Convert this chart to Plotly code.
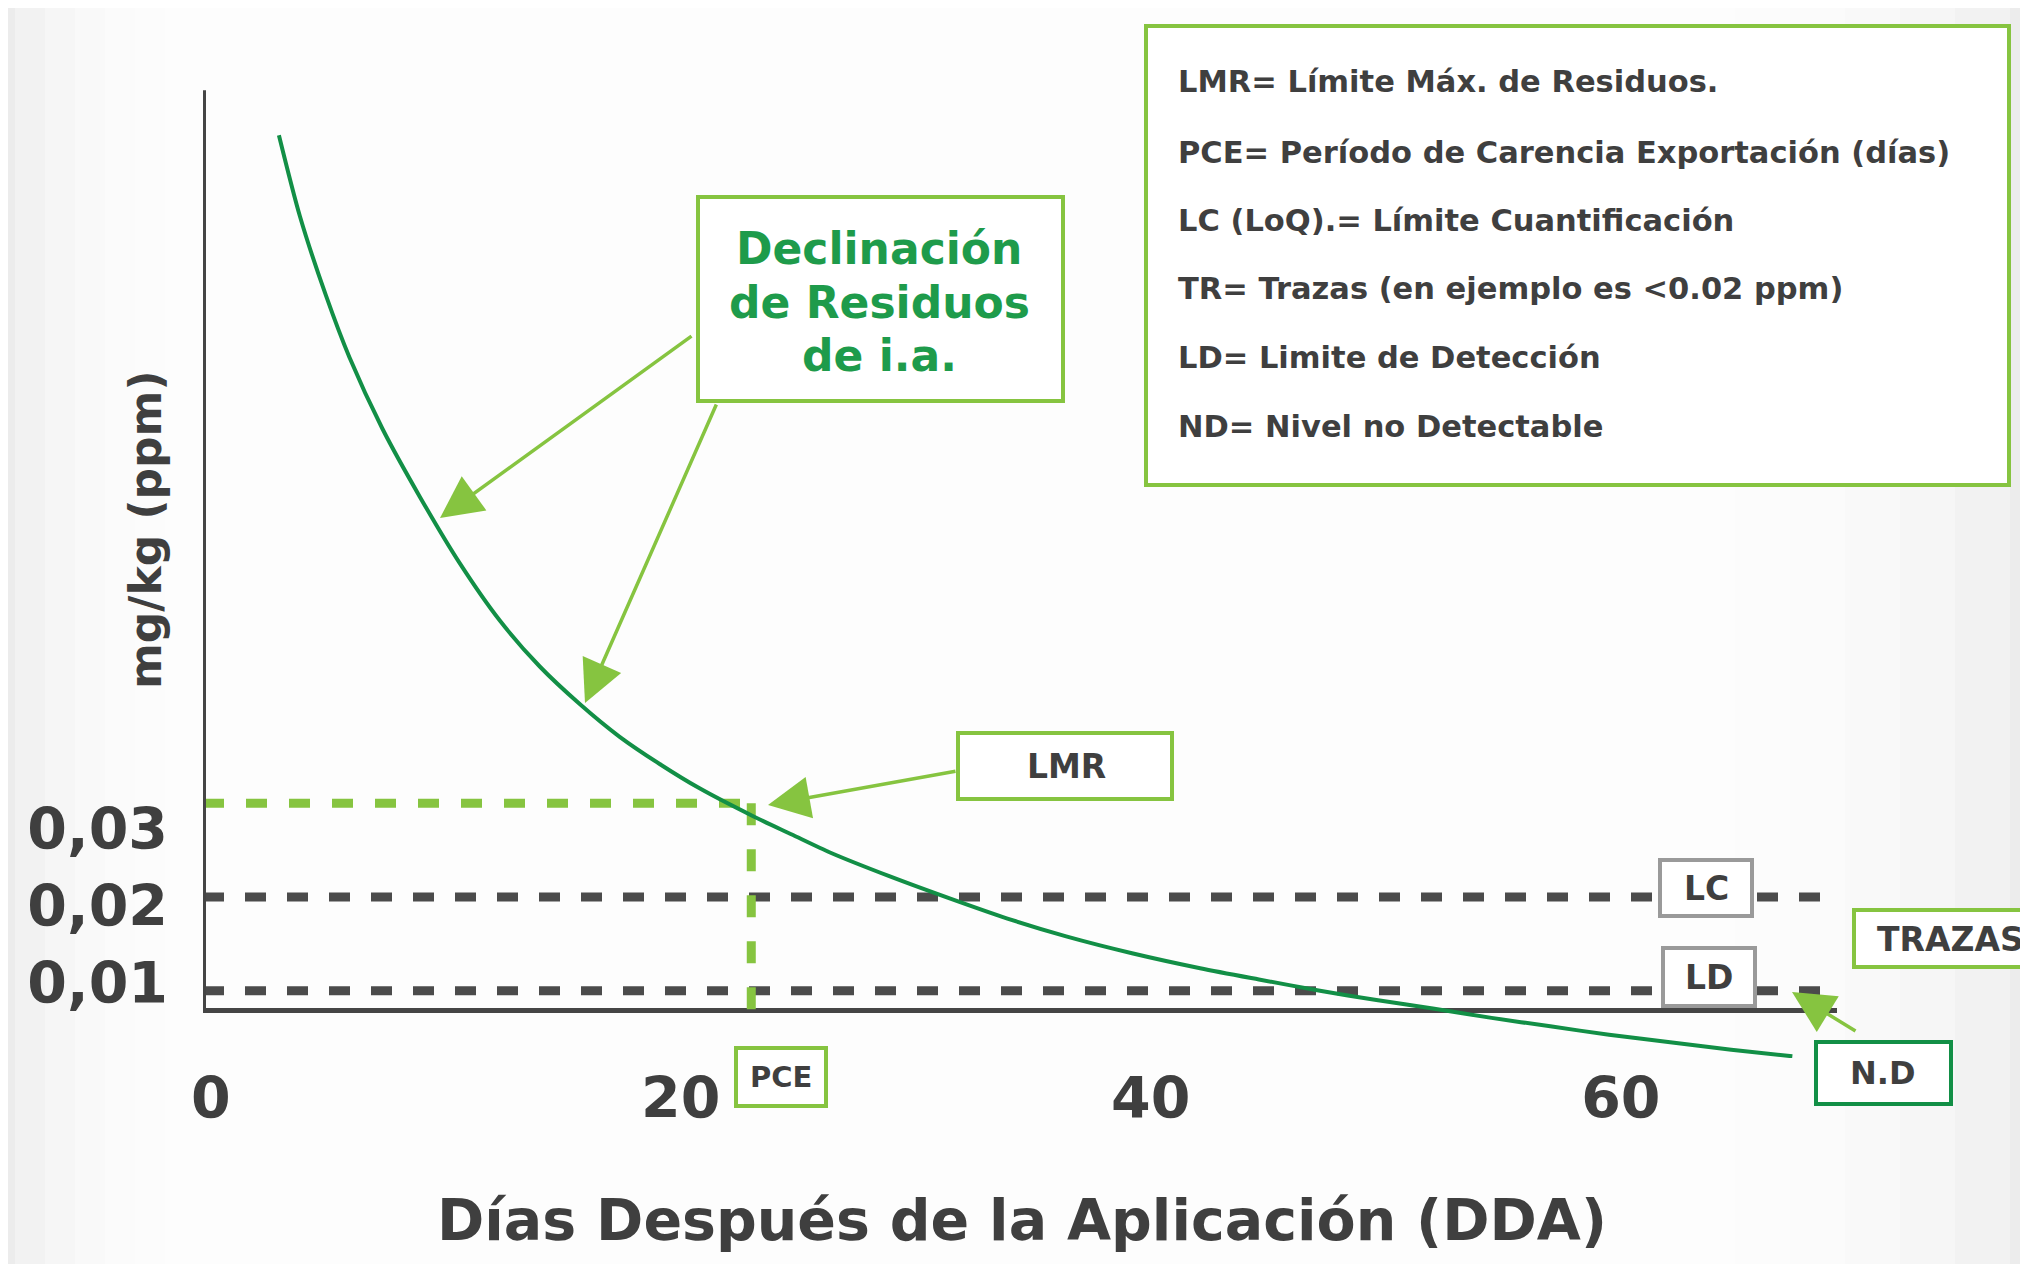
import plotly.graph_objects as go

# ---------------- data ----------------
days = [2.9, 3.8, 4.9, 5.9, 7.3, 8.9, 10.6, 12.3, 14.0, 15.7, 17.4, 19.1, 20.8,
        23.1, 24.7, 26.4, 28.9, 31.5, 33.9, 36.4, 39.2, 42.1, 44.6, 47.2, 49.6,
        52.0, 54.5, 57.0, 59.5, 62.1, 64.7, 67.3]
residue_ppm = [0.1013, 0.0926, 0.0842, 0.0776, 0.0700, 0.0627, 0.0556, 0.0495,
               0.0446, 0.0406, 0.0371, 0.0342, 0.0316, 0.0286, 0.0267, 0.0247,
               0.0222, 0.0198, 0.0177, 0.0158, 0.0140, 0.0124, 0.0112, 0.0100,
               0.0090, 0.0081, 0.0071, 0.0062, 0.0053, 0.0045, 0.0037, 0.0030]

LMR_VALUE = 0.03      # Límite Máx. de Residuos
LC_VALUE = 0.02       # Límite Cuantificación
LD_VALUE = 0.01       # Límite de Detección
PCE_DAY = 23.0        # Período de Carencia
PCE_LINE_BOTTOM = 0.0057
AXIS_BASE = 0.0079    # where the drawn x axis sits
LINE_END_DAY = 69.0
Y_AXIS_TOP = 0.1061

x_tick_vals = [0, 20, 40, 60]
x_tick_text = ["0", "20", "40", "60"]
y_tick_vals = [0.01, 0.02, 0.03]
y_tick_text = ["0,01", "0,02", "0,03"]

legend_lines = [
    "LMR= Límite Máx. de Residuos.",
    "PCE= Período de Carencia Exportación (días)",
    "LC (LoQ).= Límite Cuantificación",
    "TR= Trazas (en ejemplo es <0.02 ppm)",
    "LD= Limite de Detección",
    "ND= Nivel no Detectable",
]
title_lines = ["Declinación", "de Residuos", "de i.a."]

# ---------------- style / layout (page pixel coordinates) ----------------
OFF = 8                      # body margin of the html page
PAGE_W, PAGE_H = 2028, 1264
PL, PR, PT, PB = 203, 1837, 80, 1058
X_RANGE = [-0.33, 69.2]
Y_RANGE = [0.00282, 0.10719]
Y_LABEL_RANGE = [0.00026, 0.12727]   # scale of the (hand-placed) tick labels

FONT = "DejaVu Sans"
DARK_GREEN = "#128f46"
TEXT_GREEN = "#1e9b4b"
LIGHT_GREEN = "#86c440"
GRAY_DASH = "#4b4b4b"
AXIS_GRAY = "#454545"
TEXT_GRAY = "#3f3f3f"


def px(x):
    return (x - PL) / (PR - PL)


def py(y):
    return (PB - y) / (PB - PT)


fig = go.Figure()

dash_gray = dict(color=GRAY_DASH, width=9, dash="21px,21px")
dash_green = dict(color=LIGHT_GREEN, width=9, dash="21px,22px")

fig.add_trace(go.Scatter(x=[X_RANGE[0], LINE_END_DAY], y=[LC_VALUE, LC_VALUE], mode="lines",
                         line=dash_gray, hoverinfo="skip", showlegend=False))
fig.add_trace(go.Scatter(x=[X_RANGE[0], LINE_END_DAY], y=[LD_VALUE, LD_VALUE], mode="lines",
                         line=dash_gray, hoverinfo="skip", showlegend=False))
fig.add_trace(go.Scatter(x=[X_RANGE[0], X_RANGE[1]], y=[AXIS_BASE, AXIS_BASE],
                         mode="lines", line=dict(color=AXIS_GRAY, width=5),
                         hoverinfo="skip", showlegend=False))
fig.add_trace(go.Scatter(x=[X_RANGE[0], PCE_DAY], y=[LMR_VALUE, LMR_VALUE], mode="lines",
                         line=dash_green, hoverinfo="skip", showlegend=False))
fig.add_trace(go.Scatter(x=[PCE_DAY, PCE_DAY], y=[LMR_VALUE, PCE_LINE_BOTTOM], mode="lines",
                         line=dict(color=LIGHT_GREEN, width=9, dash="22px,24px"),
                         hoverinfo="skip", showlegend=False))
fig.add_trace(go.Scatter(x=[X_RANGE[0], X_RANGE[0]], y=[AXIS_BASE, Y_AXIS_TOP], mode="lines",
                         line=dict(color=AXIS_GRAY, width=6), hoverinfo="skip", showlegend=False))

# residue decline curve
fig.add_trace(go.Scatter(x=days, y=residue_ppm, mode="lines",
                         line=dict(color=DARK_GREEN, width=4, shape="spline", smoothing=0.8),
                         showlegend=False))

# invisible trace that carries the tick-label axis
fig.add_trace(go.Scatter(x=[X_RANGE[0]] * len(y_tick_vals), y=y_tick_vals, yaxis="y2",
                         mode="markers", marker=dict(opacity=0), hoverinfo="skip",
                         showlegend=False))

shapes = []
# background: light gray paper with white bands fading towards the centre
for i in range(10):
    shapes.append(dict(type="rect", xref="paper", yref="paper",
                       x0=px(15 + 30 * i), x1=px(2010 - 55 * i), y0=py(1300), y1=py(-40),
                       fillcolor="white", opacity=0.3, line=dict(width=0), layer="below"))


def box(x0, y0, x1, y1, color, width=4):
    shapes.append(dict(type="rect", xref="paper", yref="paper",
                       x0=px(x0), x1=px(x1), y0=py(y1), y1=py(y0),
                       fillcolor="white", line=dict(color=color, width=width), layer="above"))


box(1146, 26, 2009, 485, LIGHT_GREEN)        # legend box
box(698, 197, 1063, 401, LIGHT_GREEN)        # Declinación
box(958, 733, 1172, 799, LIGHT_GREEN)        # LMR
box(1660, 860, 1752, 916, "#9a9a9a")         # LC
box(1663, 948, 1755, 1006, "#9a9a9a")        # LD
box(1854, 910, 2045, 967, LIGHT_GREEN)       # TRAZAS
box(1816, 1042, 1951, 1104, DARK_GREEN)      # N.D
box(736, 1048, 826, 1106, LIGHT_GREEN)       # PCE

annotations = []


def label(text, x, y, size, color=TEXT_GRAY, xanchor="center", weight=700):
    annotations.append(dict(text=text, x=px(x), y=py(y), xref="paper", yref="paper",
                            xanchor=xanchor, yanchor="middle", showarrow=False,
                            font=dict(family=FONT, size=size, color=color, weight=weight)))


legend_y = [81.5, 152.0, 220.5, 288.4, 357.5, 426.5]
for txt, yy in zip(legend_lines, legend_y):
    label(txt, 1176, yy, 30.5, xanchor="left")

for txt, yy in zip(title_lines, [248, 302, 355]):
    label(txt, 879, yy, 44, color=TEXT_GREEN)

label("LMR", 1066, 766, 33)
label("LC", 1706, 888, 33)
label("LD", 1709, 977, 33)
label("TRAZAS", 1950, 939, 33)
label("N.D", 1883, 1073, 32)
label("PCE", 781, 1077, 29)

# axis titles
label("Días Después de la Aplicación (DDA)", 1022, 1220, 57)
annotations.append(dict(text="mg/kg (ppm)", x=px(145), y=py(530), textangle=-90,
                        xref="paper", yref="paper", xanchor="center", yanchor="middle",
                        showarrow=False, font=dict(family=FONT, size=44, color=TEXT_GRAY, weight=700)))


def arrow(tip_x, tip_y, tail_x, tail_y):
    annotations.append(dict(text="", x=px(tip_x), y=py(tip_y), xref="paper", yref="paper",
                            ax=tail_x - tip_x, ay=tail_y - tip_y, axref="pixel", ayref="pixel",
                            showarrow=True, arrowhead=2, arrowsize=2.4, arrowwidth=3.5,
                            arrowcolor=LIGHT_GREEN, standoff=0))


arrow(440, 518, 693, 335)
arrow(585, 703, 717, 403)
arrow(768, 805, 957, 771)
arrow(1792, 992, 1857, 1032)

tickfont = dict(family=FONT, size=57, color=TEXT_GRAY, weight=700)
fig.update_layout(
    width=PAGE_W - OFF, height=PAGE_H - OFF,
    margin=dict(l=PL - OFF, r=PAGE_W - PR, t=PT - OFF, b=PAGE_H - PB),
    paper_bgcolor="#ececec",
    plot_bgcolor="rgba(0,0,0,0)",
    shapes=shapes,
    annotations=annotations,
    showlegend=False,
    xaxis=dict(range=X_RANGE, tickvals=x_tick_vals, ticktext=x_tick_text,
               showgrid=False, zeroline=False, showline=False, ticks="",
               ticklabelstandoff=2, tickfont=tickfont),
    yaxis=dict(range=Y_RANGE, showticklabels=False,
               showgrid=False, zeroline=False, showline=False, ticks=""),
    yaxis2=dict(range=Y_LABEL_RANGE, overlaying="y", side="left",
                tickvals=y_tick_vals, ticktext=y_tick_text,
                showgrid=False, zeroline=False, showline=False, ticks="",
                ticklabelstandoff=34, tickfont=tickfont),
)

fig.write_html("out.html")
